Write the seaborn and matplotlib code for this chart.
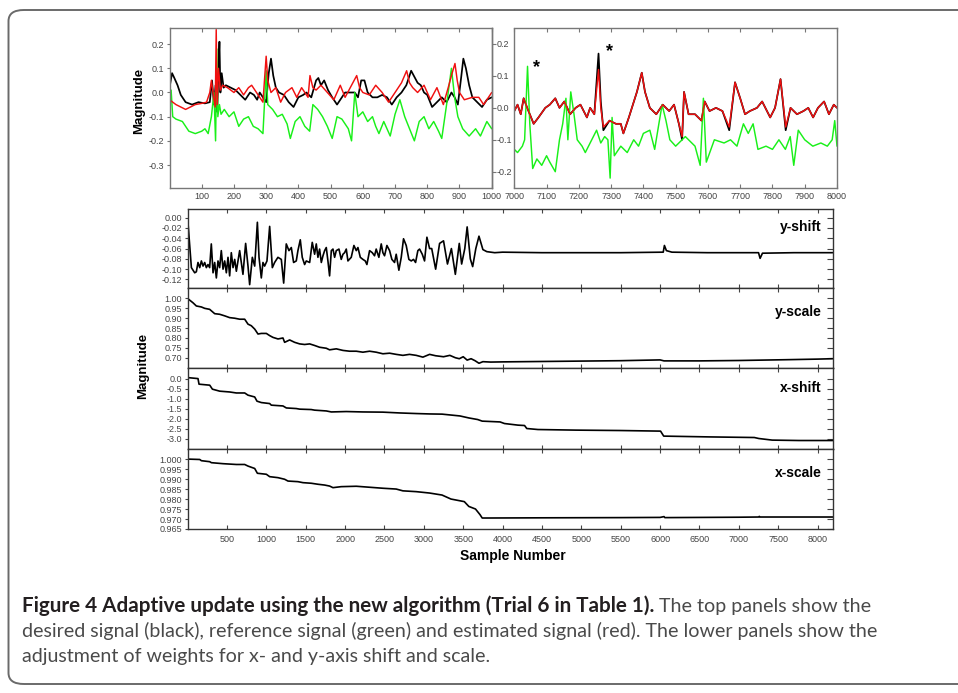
import matplotlib
matplotlib.use("Agg")
import matplotlib.pyplot as plt
import seaborn as sns
import numpy as np
from matplotlib.patches import FancyBboxPatch
from matplotlib.ticker import FixedLocator, FormatStrFormatter, NullFormatter

# ---------------- data ----------------
tl_black_x = [0, 8, 15, 25, 35, 50, 70, 90, 110, 125, 132, 138, 143, 148, 152, 155, 158, 162, 168, 175,
              190, 205, 220, 235, 250, 262, 272, 280, 290, 300, 308, 315, 322, 330, 340, 355, 370, 385, 400, 415,
              425, 440, 455, 462, 470, 480, 492, 505, 520, 535, 545, 560, 575, 585, 595, 605, 615, 630, 645, 660,
              675, 690, 705, 720, 735, 750, 762, 770, 780, 790, 800, 815, 830, 845, 860, 875, 885, 895, 905, 912,
              920, 930, 940, 955, 970, 985, 1000]
tl_black_y = [0.02, 0.08, 0.06, 0.03, -0.01, -0.04, -0.05, -0.04, -0.045, -0.04, 0.05, -0.05, 0.03, -0.08, 0.10, 0.21, 0.0, 0.08, 0.02, 0.03,
              0.02, 0.01, -0.01, -0.03, 0.0, -0.01, -0.03, 0.0, -0.02, -0.04, 0.08, 0.14, 0.07, 0.02, 0.0, -0.01, -0.04, -0.06, -0.02, -0.01,
              0.0, -0.02, 0.05, 0.06, 0.03, 0.05, 0.01, -0.02, -0.05, -0.02, 0.0, 0.0, 0.0, -0.02, 0.05, 0.05, 0.0, -0.02, -0.02, -0.01,
              -0.02, -0.05, -0.02, 0.0, 0.03, 0.09, 0.06, 0.04, 0.03, 0.0, -0.01, -0.06, -0.04, -0.02, -0.04, 0.0, -0.02, -0.05, 0.06, 0.14,
              0.10, 0.03, -0.02, -0.04, -0.06, -0.03, -0.02]

tl_red_x = [0, 10, 20, 35, 50, 65, 80, 100, 115, 125, 130, 137, 142, 145, 148, 152, 158, 165, 180, 200,
            215, 230, 245, 255, 270, 290, 300, 305, 315, 330, 345, 360, 380, 395, 410, 430, 436, 445, 455, 470,
            490, 510, 530, 545, 565, 581, 590, 600, 620, 640, 660, 680, 700, 720, 736, 745, 755, 770, 790, 810,
            830, 850, 865, 875, 886, 893, 900, 915, 940, 960, 975, 990, 1000]
tl_red_y = [-0.03, -0.04, -0.05, -0.06, -0.07, -0.06, -0.05, -0.045, -0.04, 0.0, 0.05, -0.02, -0.06, 0.26, -0.05, 0.10, 0.01, 0.03, 0.02, 0.0,
            0.02, -0.01, 0.02, 0.03, 0.0, -0.04, 0.15, 0.05, 0.0, 0.02, -0.04, 0.0, 0.02, -0.02, 0.02, -0.02, 0.07, 0.02, 0.01, 0.03,
            0.0, -0.03, 0.03, -0.02, 0.03, 0.07, 0.02, 0.0, -0.01, 0.03, 0.0, -0.04, 0.0, 0.04, 0.09, 0.04, 0.02, 0.0, 0.03, -0.03,
            0.02, -0.05, 0.02, 0.07, 0.12, 0.05, 0.0, -0.03, -0.02, -0.02, -0.05, -0.02, 0.0]

tl_green_x = [0, 5, 10, 20, 40, 60, 80, 100, 110, 120, 130, 138, 143, 147, 150, 155, 160, 170, 185, 200,
              215, 230, 245, 260, 275, 290, 300, 305, 320, 335, 350, 365, 375, 390, 405, 420, 435, 445, 460, 475,
              490, 505, 520, 535, 555, 565, 575, 585, 600, 615, 630, 640, 650, 665, 685, 700, 715, 730, 745, 760,
              775, 790, 805, 820, 835, 845, 860, 875, 885, 895, 910, 930, 950, 965, 985, 1000]
tl_green_y = [-0.08, 0.01, -0.10, -0.11, -0.12, -0.16, -0.17, -0.16, -0.15, -0.17, -0.10, 0.0, -0.20, 0.18, -0.10, -0.05, -0.09, -0.07, -0.10, -0.08,
              -0.14, -0.11, -0.10, -0.14, -0.15, -0.17, 0.09, -0.05, -0.07, -0.10, -0.09, -0.13, -0.19, -0.12, -0.10, -0.14, -0.16, -0.05, -0.07, -0.10,
              -0.14, -0.19, -0.10, -0.11, -0.15, -0.20, 0.0, -0.10, -0.08, -0.12, -0.10, -0.14, -0.17, -0.12, -0.18, -0.09, -0.03, -0.10, -0.15, -0.20,
              -0.12, -0.10, -0.15, -0.12, -0.16, -0.19, -0.05, 0.10, -0.02, -0.10, -0.15, -0.18, -0.15, -0.18, -0.12, -0.15]

tr_red_x = [7000, 7010, 7020, 7029, 7040, 7060, 7075, 7096, 7110, 7127, 7140, 7155, 7173, 7190, 7205, 7225, 7235, 7248, 7261, 7268,
            7276, 7295, 7315, 7330, 7338, 7355, 7380, 7395, 7405, 7420, 7440, 7460, 7480, 7495, 7510, 7520, 7526, 7540, 7560, 7580,
            7590, 7605, 7625, 7645, 7666, 7684, 7700, 7715, 7730, 7752, 7768, 7793, 7808, 7825, 7841, 7856, 7876, 7896, 7911, 7926,
            7941, 7960, 7975, 7990, 8000]
tr_red_y = [-0.01, 0.01, -0.02, 0.03, 0.0, -0.05, -0.03, 0.0, 0.01, 0.03, 0.0, 0.02, -0.02, 0.0, 0.01, -0.03, 0.0, -0.02, 0.12, 0.0,
            -0.06, -0.04, -0.05, -0.05, -0.08, -0.03, 0.05, 0.11, 0.05, 0.0, -0.02, 0.01, -0.01, 0.01, -0.05, -0.09, 0.05, -0.02, -0.02, -0.04,
            0.02, -0.01, 0.0, -0.01, -0.06, 0.08, 0.03, -0.02, -0.01, 0.0, 0.02, -0.03, 0.0, 0.09, -0.06, 0.0, -0.02, -0.01, 0.0, -0.03,
            0.0, 0.02, -0.02, 0.01, 0.0]
tr_black_y = [-0.01, 0.01, -0.02, 0.03, 0.0, -0.05, -0.03, 0.0, 0.01, 0.03, 0.0, 0.02, -0.02, 0.0, 0.01, -0.03, 0.0, -0.02, 0.17, 0.02,
              -0.07, -0.04, -0.05, -0.05, -0.08, -0.03, 0.05, 0.11, 0.05, 0.0, -0.02, 0.01, -0.01, 0.01, -0.05, -0.10, 0.05, -0.02, -0.02, -0.04,
              0.02, -0.01, 0.0, -0.01, -0.07, 0.08, 0.03, -0.02, -0.01, 0.0, 0.02, -0.03, 0.0, 0.09, -0.07, 0.0, -0.02, -0.01, 0.0, -0.03,
              0.0, 0.02, -0.02, 0.01, 0.0]

tr_green_x = [7000, 7010, 7025, 7032, 7041, 7048, 7057, 7070, 7085, 7100, 7110, 7127, 7140, 7150, 7160, 7166, 7175, 7185, 7195, 7210,
              7220, 7240, 7255, 7268, 7280, 7290, 7297, 7303, 7310, 7330, 7350, 7370, 7385, 7400, 7420, 7435, 7448, 7458, 7470, 7482,
              7500, 7530, 7560, 7576, 7586, 7595, 7620, 7650, 7670, 7690, 7710, 7725, 7740, 7755, 7780, 7800, 7820, 7840, 7855, 7866,
              7880, 7900, 7925, 7950, 7970, 7985, 7993, 8000]
tr_green_y = [-0.13, -0.14, -0.12, -0.10, 0.13, -0.05, -0.19, -0.16, -0.18, -0.15, -0.17, -0.20, -0.10, -0.05, 0.03, -0.10, 0.05, -0.02, -0.10, -0.12,
              -0.14, -0.10, -0.07, -0.11, -0.09, -0.10, -0.22, -0.03, -0.15, -0.12, -0.14, -0.10, -0.12, -0.08, -0.07, -0.13, -0.05, 0.01, -0.04, -0.10,
              -0.12, -0.09, -0.12, -0.18, 0.03, -0.17, -0.10, -0.11, -0.10, -0.12, -0.05, -0.08, -0.05, -0.13, -0.12, -0.13, -0.10, -0.13, -0.09, -0.18,
              -0.07, -0.10, -0.12, -0.11, -0.12, -0.10, -0.04, -0.12]

star_x = [7068, 7295]
star_y = [0.125, 0.175]

ys_x = [0, 48, 90, 111, 132, 154, 175, 196, 217, 238, 259, 280, 301, 323, 344, 365, 386, 407, 428, 450,
        471, 492, 513, 534, 555, 577, 598, 619, 661, 703, 737, 767, 788, 822, 852, 886, 907, 936, 957, 978,
        1008, 1042, 1076, 1105, 1147, 1190, 1220, 1253, 1287, 1317, 1346, 1380, 1401, 1431, 1456, 1486, 1507, 1550, 1583, 1613,
        1634, 1655, 1676, 1698, 1719, 1740, 1761, 1782, 1803, 1825, 1846, 1867, 1888, 1922, 1951, 1973, 1994, 2015, 2036, 2078,
        2112, 2142, 2163, 2193, 2226, 2256, 2277, 2311, 2345, 2374, 2395, 2429, 2459, 2480, 2501, 2531, 2565, 2594, 2628, 2649,
        2683, 2713, 2742, 2776, 2810, 2840, 2869, 2895, 2924, 2946, 2980, 3009, 3039, 3073, 3100, 3150, 3200, 3250, 3300, 3350,
        3400, 3450, 3480, 3520, 3550, 3590, 3620, 3660, 3700, 3750, 3800, 3900, 4000, 4500, 5000, 5500, 6040, 6055, 6080, 6150,
        6600, 7250, 7270, 7300, 7700, 8192]
ys_y = [0.0, -0.097, -0.107, -0.105, -0.087, -0.097, -0.084, -0.094, -0.087, -0.097, -0.091, -0.097, -0.051, -0.107, -0.087, -0.117, -0.084, -0.097, -0.064, -0.100,
        -0.084, -0.107, -0.077, -0.113, -0.068, -0.097, -0.081, -0.104, -0.064, -0.110, -0.050, -0.094, -0.130, -0.077, -0.094, -0.009, -0.077, -0.117, -0.087, -0.094,
        -0.084, -0.017, -0.097, -0.087, -0.077, -0.081, -0.127, -0.051, -0.064, -0.058, -0.087, -0.084, -0.064, -0.043, -0.077, -0.091, -0.084, -0.087, -0.048, -0.071,
        -0.051, -0.077, -0.061, -0.087, -0.074, -0.064, -0.058, -0.084, -0.113, -0.064, -0.061, -0.077, -0.064, -0.061, -0.081, -0.071, -0.068, -0.061, -0.084, -0.077,
        -0.054, -0.064, -0.058, -0.077, -0.081, -0.084, -0.091, -0.064, -0.068, -0.074, -0.061, -0.077, -0.051, -0.068, -0.074, -0.054, -0.064, -0.081, -0.087, -0.071,
        -0.102, -0.077, -0.041, -0.054, -0.081, -0.084, -0.081, -0.087, -0.064, -0.061, -0.071, -0.084, -0.038, -0.060, -0.060, -0.100, -0.050, -0.045, -0.090, -0.060,
        -0.110, -0.050, -0.090, -0.060, -0.018, -0.080, -0.095, -0.060, -0.036, -0.062, -0.066, -0.068, -0.067, -0.068, -0.068, -0.068, -0.067, -0.054, -0.064, -0.067,
        -0.068, -0.068, -0.079, -0.069, -0.068, -0.068]

ysc_x = [0, 69, 111, 175, 217, 280, 344, 407, 471, 534, 598, 661, 725, 767, 809, 852, 894, 936, 1000, 1042,
         1084, 1148, 1211, 1232, 1296, 1359, 1423, 1486, 1550, 1613, 1676, 1761, 1803, 1888, 1973, 2057, 2142, 2226, 2311, 2395,
         2480, 2565, 2649, 2734, 2818, 2903, 2988, 3073, 3150, 3250, 3330, 3400, 3450, 3500, 3550, 3600, 3650, 3700, 3750, 3850,
         4000, 4500, 5000, 5500, 6000, 6050, 6500, 7000, 7300, 7600, 8000, 8192]
ysc_y = [1.0, 0.978, 0.962, 0.957, 0.950, 0.945, 0.923, 0.920, 0.912, 0.903, 0.900, 0.895, 0.895, 0.870, 0.862, 0.845, 0.820, 0.823, 0.823, 0.812,
         0.803, 0.795, 0.800, 0.778, 0.790, 0.778, 0.770, 0.767, 0.770, 0.762, 0.753, 0.748, 0.740, 0.745, 0.737, 0.733, 0.733, 0.728, 0.733, 0.728,
         0.720, 0.723, 0.717, 0.712, 0.717, 0.712, 0.703, 0.717, 0.710, 0.705, 0.712, 0.700, 0.695, 0.705, 0.688, 0.695, 0.685, 0.672, 0.680, 0.678,
         0.679, 0.681, 0.683, 0.685, 0.689, 0.684, 0.684, 0.686, 0.688, 0.690, 0.693, 0.695]

xs_x = [0, 132, 145, 281, 315, 408, 534, 619, 725, 767, 852, 881, 936, 1042, 1063, 1211, 1254, 1380, 1423, 1570,
        1613, 1761, 1825, 2015, 2226, 2480, 2692, 2903, 3073, 3232, 3458, 3571, 3684, 3741, 3968, 4024, 4194, 4279, 4307, 4449,
        4930, 5496, 6006, 6046, 6630, 7197, 7254, 7424, 7764, 8192]
xs_y = [0.05, 0.0, -0.28, -0.33, -0.53, -0.63, -0.67, -0.72, -0.72, -0.83, -0.92, -1.13, -1.20, -1.25, -1.33, -1.37, -1.47, -1.50, -1.53, -1.55,
        -1.58, -1.62, -1.67, -1.65, -1.67, -1.68, -1.72, -1.75, -1.77, -1.78, -1.87, -1.97, -2.05, -2.13, -2.17, -2.25, -2.33, -2.35, -2.50, -2.55,
        -2.58, -2.60, -2.63, -2.88, -2.92, -2.95, -3.00, -3.08, -3.10, -3.10]

xsc_x = [0, 154, 175, 280, 302, 450, 619, 725, 767, 852, 886, 1000, 1042, 1148, 1232, 1275, 1401, 1465, 1571, 1655,
         1740, 1803, 1846, 1951, 2142, 2311, 2480, 2649, 2734, 2903, 3073, 3231, 3344, 3514, 3571, 3656, 3713, 3741, 3800, 4500,
         5500, 6000, 6050, 6060, 7000, 7250, 7260, 7270, 8192]
xsc_y = [1.0, 0.9998, 0.9992, 0.9987, 0.9982, 0.9977, 0.9973, 0.9973, 0.9965, 0.9953, 0.9929, 0.9924, 0.9912, 0.9907, 0.9899, 0.9890, 0.9887, 0.9882, 0.9879, 0.9874,
         0.9870, 0.9865, 0.9857, 0.9862, 0.9864, 0.9859, 0.9854, 0.9850, 0.9841, 0.9837, 0.9830, 0.9820, 0.9800, 0.9787, 0.9763, 0.9750, 0.9722, 0.9705, 0.9705, 0.9706,
         0.9707, 0.9708, 0.9712, 0.9707, 0.9709, 0.9710, 0.9713, 0.9710, 0.9710]

tl_xticks = [100, 200, 300, 400, 500, 600, 700, 800, 900, 1000]
tl_yticks = [0.2, 0.1, 0.0, -0.1, -0.2, -0.3]
tr_xticks = [7000, 7100, 7200, 7300, 7400, 7500, 7600, 7700, 7800, 7900, 8000]
tr_yticks = [0.2, 0.1, 0.0, -0.1, -0.2]
low_xticks = [500, 1000, 1500, 2000, 2500, 3000, 3500, 4000, 4500, 5000, 5500, 6000, 6500, 7000, 7500, 8000]
ys_ticks = [0.00, -0.02, -0.04, -0.06, -0.08, -0.10, -0.12]
ysc_ticks = [1.00, 0.95, 0.90, 0.85, 0.80, 0.75, 0.70]
xs_ticks = [0.0, -0.5, -1.0, -1.5, -2.0, -2.5, -3.0]
xsc_ticks = [1.000, 0.995, 0.990, 0.985, 0.980, 0.975, 0.970, 0.965]
panel_names = ["y-shift", "y-scale", "x-shift", "x-scale"]

caption_bold = "Figure 4 Adaptive update using the new algorithm (Trial 6 in Table 1)."
caption_l1 = " The top panels show the"
caption_l2 = "desired signal (black), reference signal (green) and estimated signal (red). The lower panels show the"
caption_l3 = "adjustment of weights for x- and y-axis shift and scale."

# ---------------- style ----------------
sns.set_theme(style="ticks")
plt.rcParams["font.family"] = ["Liberation Sans", "DejaVu Sans"]
plt.rcParams["axes.unicode_minus"] = False

W, H = 958, 693
fig = plt.figure(figsize=(W / 100, H / 100), dpi=100)
fig.patch.set_facecolor("white")


def rect(x0, y0, x1, y1):
    return [x0 / W, 1 - y1 / H, (x1 - x0) / W, (y1 - y0) / H]


RED = "#f01010"
GREEN = "#19f019"
TICKC = "#444444"

# frame
frame = FancyBboxPatch((8.5 / W, 1 - 684 / H), (W + 40) / W, (684 - 10) / H,
                       boxstyle="round,pad=0,rounding_size=0.016",
                       transform=fig.transFigure, fill=False, edgecolor="#6a6a6a",
                       linewidth=1.4, clip_on=False)
fig.patches.append(frame)


def style_axes(ax, spc, lw=1.0):
    for s in ax.spines.values():
        s.set_visible(True)
        s.set_color(spc)
        s.set_linewidth(lw)
    ax.set_facecolor("white")
    ax.set_xlabel("")
    ax.set_ylabel("")
    ax.grid(False)


def line(ax, x, y, color, lw=1.2):
    sns.lineplot(x=x, y=y, ax=ax, color=color, linewidth=lw, estimator=None,
                 sort=False, legend=False)


# ---------------- top-left ----------------
axTL = fig.add_axes(rect(169.5, 27.7, 491.7, 188))
line(axTL, tl_black_x, tl_black_y, "black", 1.25)
line(axTL, tl_green_x, tl_green_y, GREEN, 1.05)
line(axTL, tl_red_x, tl_red_y, RED, 1.05)
axTL.set_xlim(0, 1000)
axTL.set_ylim(-0.395, 0.268)
style_axes(axTL, "#777777")
axTL.xaxis.set_major_locator(FixedLocator(tl_xticks))
axTL.yaxis.set_major_locator(FixedLocator(tl_yticks))
axTL.yaxis.set_major_formatter(FormatStrFormatter("%.1f"))
axTL.tick_params(axis="x", which="both", direction="in", top=True, bottom=True, length=3,
                 width=0.8, color="#777777", labelsize=6.5, labelcolor=TICKC, pad=3)
axTL.tick_params(axis="y", direction="out", left=True, right=False, length=2.5, width=0.8,
                 color="#777777", labelsize=6.5, labelcolor=TICKC, pad=1.5)
axTL.xaxis.set_major_formatter(FormatStrFormatter("%d"))

# ---------------- top-right ----------------
axTR = fig.add_axes(rect(514.3, 27.7, 837, 188))
line(axTR, tr_red_x, tr_black_y, "black", 1.25)
line(axTR, tr_green_x, tr_green_y, GREEN, 1.05)
line(axTR, tr_red_x, tr_red_y, RED, 1.05)
axTR.set_xlim(7000, 8000)
axTR.set_ylim(-0.251, 0.251)
style_axes(axTR, "#777777")
axTR.spines["left"].set_position(("outward", (514.3 - 491.7) * 0.72))
axTR.plot([0, 0], [0, 1], transform=axTR.transAxes, color="#777777", lw=1.0, clip_on=False)
axTR.xaxis.set_major_locator(FixedLocator(tr_xticks))
axTR.xaxis.set_major_formatter(FormatStrFormatter("%d"))
axTR.yaxis.set_major_locator(FixedLocator(tr_yticks))
axTR.yaxis.set_major_formatter(FormatStrFormatter("%.1f"))
axTR.tick_params(axis="x", direction="in", top=True, bottom=True, length=3, width=0.8,
                 color="#777777", labelsize=6.5, labelcolor=TICKC, pad=3)
axTR.tick_params(axis="y", direction="in", left=True, right=False, length=3, width=0.8,
                 color="#777777", labelsize=6.5, labelcolor=TICKC, pad=-3.5)
for t in axTR.get_yticklabels():
    t.set_horizontalalignment("left")
for sx, sy in zip(star_x, star_y):
    axTR.text(sx, sy, "*", fontsize=13, fontweight="bold", ha="center", va="center", color="black")

# ---------------- lower panels ----------------
bounds = [208.5, 288, 368, 448.5, 529]
series = [(ys_x, ys_y, ys_ticks, "%.2f", (-0.1365, 0.0177), 0.767),
          (ysc_x, ysc_y, ysc_ticks, "%.2f", (0.648, 1.053), 0.70),
          (xs_x, xs_y, xs_ticks, "%.1f", (-3.5, 0.53), 0.75),
          (xsc_x, xsc_y, xsc_ticks, "%.3f", (0.965, 1.0053), 0.70)]
for i, (sx, sy, ticks, fmt, ylim, ty) in enumerate(series):
    ax = fig.add_axes(rect(187.6, bounds[i], 832.7, bounds[i + 1]))
    line(ax, sx, sy, "black", 1.2)
    ax.set_xlim(0, 8192)
    ax.set_ylim(*ylim)
    style_axes(ax, "#333333", 1.0)
    ax.xaxis.set_major_locator(FixedLocator(low_xticks))
    ax.yaxis.set_major_locator(FixedLocator(ticks))
    ax.yaxis.set_major_formatter(FormatStrFormatter(fmt))
    ax.tick_params(axis="x", direction="in", top=True, bottom=True, length=3, width=0.8,
                   color="#444444", labelsize=6.5, labelcolor=TICKC, pad=4)
    ax.tick_params(axis="y", which="major", direction="out", left=True, length=2.5, width=0.8,
                   color="#444444", labelsize=6.5, labelcolor=TICKC, pad=1.5)
    ax.tick_params(axis="y", right=True, labelright=False)
    for tk in ax.yaxis.get_major_ticks():
        tk.tick2line.set_marker(matplotlib.lines.TICKLEFT)
        tk.tick2line.set_markersize(4)
    if i < 3:
        ax.xaxis.set_major_formatter(NullFormatter())
    else:
        ax.xaxis.set_major_formatter(FormatStrFormatter("%d"))
    ax.text(0.983, ty, panel_names[i], transform=ax.transAxes, ha="right", va="center",
            fontsize=10, fontweight="bold", color="black")

# axis titles
fig.text(139.5 / W, 1 - 101 / H, "Magnitude", rotation=90, ha="center", va="center",
         fontsize=9.5, fontweight="bold", color="black")
fig.text(143 / W, 1 - 366 / H, "Magnitude", rotation=90, ha="center", va="center",
         fontsize=9.5, fontweight="bold", color="black")
fig.text(513 / W, 1 - 556 / H, "Sample Number", ha="center", va="center",
         fontsize=10, fontweight="bold", color="black")

# ---------------- caption ----------------
cap_font = ["Lato", "DejaVu Sans"]
fig.canvas.draw()
rend = fig.canvas.get_renderer()


def width_at(txt, size, weight="normal"):
    p = fig.text(0, 0, txt, fontsize=size, fontweight=weight, family=cap_font)
    w = p.get_window_extent(renderer=rend).width
    p.remove()
    return w


cs = 14 * 858.0 / width_at(caption_l2, 14)
w_rest = width_at(caption_l1, cs)
bs = 14 * (878.0 - 22.0 - w_rest) / width_at(caption_bold, 14, "bold")

x0 = 22 / W
tb = fig.text(x0, 1 - 612 / H, caption_bold, fontsize=bs, fontweight="bold",
              family=cap_font, color="#231f20", va="baseline")
bw = tb.get_window_extent(renderer=rend).width
fig.text((22 + bw) / W, 1 - 612 / H, caption_l1, fontsize=cs, family=cap_font,
         color="#4a4a4a", va="baseline")
fig.text(x0, 1 - 637 / H, caption_l2, fontsize=cs, family=cap_font, color="#4a4a4a", va="baseline")
fig.text(x0, 1 - 662 / H, caption_l3, fontsize=cs, family=cap_font, color="#4a4a4a", va="baseline")

fig.savefig("out.png", dpi=100, facecolor="white")
